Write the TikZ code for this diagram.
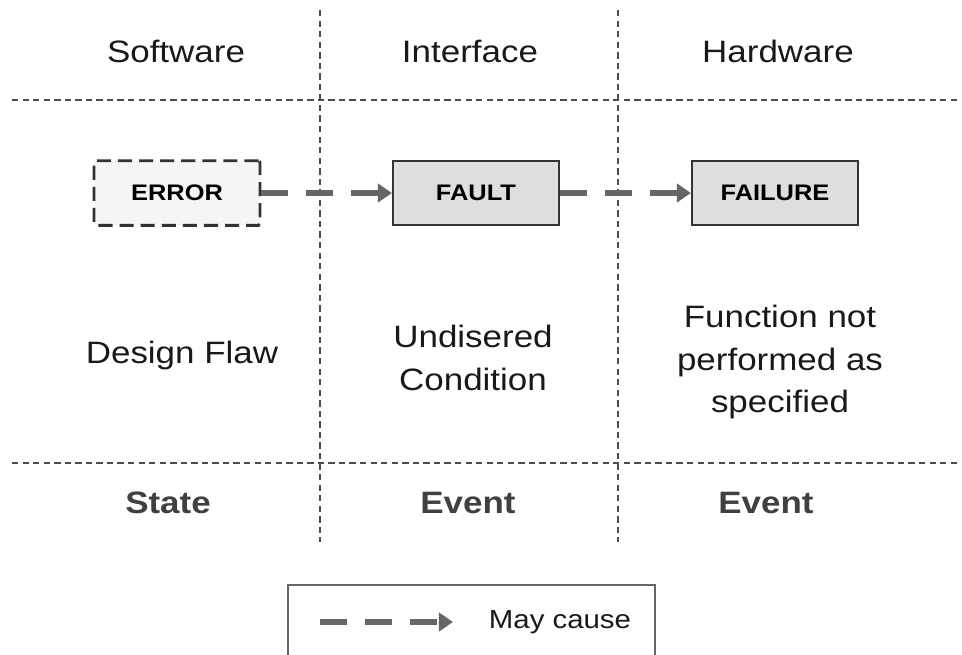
\documentclass[tikz,border=0pt]{standalone}
\usepackage{fontspec}
\setmainfont[FakeStretch=1.13]{Liberation Sans}
\usetikzlibrary{arrows.meta, positioning, calc}
\tikzset{
  grid/.style={draw=black!70, dash pattern=on 4.5pt off 3pt, line width=0.8pt},
  head/.style={font=\fontsize{22}{24}\selectfont, text=black!90},
  desc/.style={font=\fontsize{22}{30.5}\selectfont, text=black!90, align=center},
  kind/.style={font=\bfseries\fontsize{22}{24}\selectfont, text=black!75},
  box/.style={draw=black!80, line width=1.6pt, fill=black!13, minimum width=118pt, minimum height=46pt,
    font=\bfseries\fontsize{16}{18}\selectfont},
  ghost/.style={box, fill=black!4, line width=2pt, rounded corners=1pt, dash pattern=on 10pt off 5pt},
  cause/.style={draw=black!60, line width=4.3pt, dash pattern=on 19pt off 13pt,
    -{Triangle[length=10pt,width=13pt]}},
}
\begin{document}
\begin{tikzpicture}[x=0.025cm, y=-0.025cm]
  \clip (0,0) rectangle (962,654);
  \useasboundingbox (0,0) rectangle (962,654);
  % column and row separators
  \draw[grid] (320,10) -- (320,542);
  \draw[grid] (618,10) -- (618,542);
  \draw[grid] (12,100) -- (960,100);
  \draw[grid] (12,463) -- (960,463);
  % column headers
  \node[head] (sw) at (176,51) {Software};
  \node[head] (if) at (470,51) {Interface};
  \node[head] (hw) at (778,51) {Hardware};
  % the chain
  \node[ghost] (error) at (177,193) {ERROR};
  \node[box] (fault) at (476,193) {FAULT};
  \node[box] (failure) at (775,193) {FAILURE};
  \draw[cause] (error) -- (fault);
  \draw[cause] (fault) -- (failure);
  % descriptions
  \node[desc] (flaw) at (182,355) {Design Flaw};
  \node[desc] (cond) at (473,358) {Undisered\\Condition};
  \node[desc] (func) at (780,362) {Function not\\performed as\\specified};
  % state or event
  \node[kind] (state) at (168,503) {State};
  \node[kind] (ev1) at (468,503) {Event};
  \node[kind] (ev2) at (766,503) {Event};
  % legend
  \draw[draw=black!60, line width=1.2pt] (288,585) rectangle (655,680);
  \coordinate (la) at (320,622);
  \coordinate (lb) at (453,622);
  \draw[cause] (la) -- (lb);
  \node[font=\fontsize{18.5}{20}\selectfont, text=black!90] (lg) at (560,622) {May cause};
\end{tikzpicture}
\end{document}
